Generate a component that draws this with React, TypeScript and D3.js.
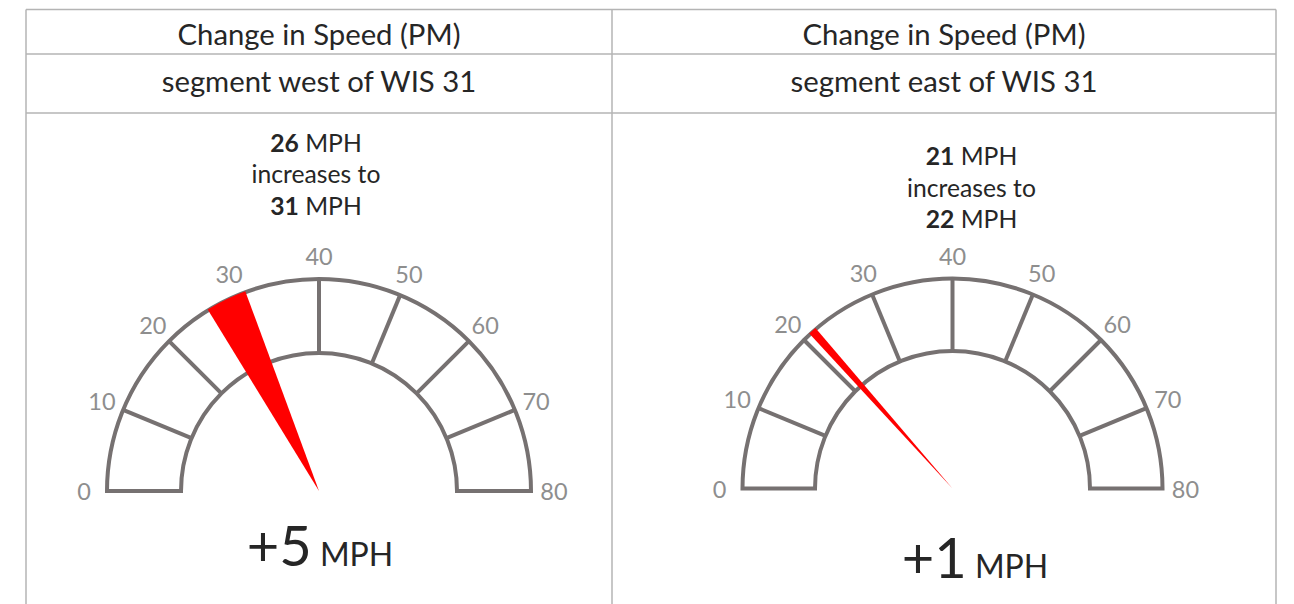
import React from "react";
import * as d3 from "d3";

// ---- data ----
const titles = ["Change in Speed (PM)", "Change in Speed (PM)"];
const segments = ["segment west of WIS 31", "segment east of WIS 31"];
const speedBefore = [26, 21];
const speedAfter = [31, 22];
const changeText = ["+5", "+1"];
const tickValues = [0, 10, 20, 30, 40, 50, 60, 70, 80];
const unit = "MPH";
const middleWords = "increases to";

// ---- layout ----
const W = 1294;
const H = 604;
const FONT = "Lato, 'Open Sans', sans-serif";
const tableLeft = 26;
const tableRight = 1276;
const tableTop = 9.5;
const colSplit = 612;
const rowLines = [54, 113];
const gridColor = "#b4b4b4";
const ringColor = "#767171";
const labelColor = "#8e8e8e";
const textColor = "#262626";

const layouts = [
  { headCx: 319, cx: 319, cy: 491, rOut: 212, rIn: 138, textCx: 316, textY: 151.5, bigCx: 320, bigY: 566 },
  { headCx: 944, cx: 952.5, cy: 488.5, rOut: 210, rIn: 137.5, textCx: 971.5, textY: 165, bigCx: 975, bigY: 578 },
];

const angle = d3.scaleLinear().domain([0, 80]).range([-Math.PI / 2, Math.PI / 2]);

function Gauge({ i }: { i: number }) {
  const L = layouts[i];
  const ring = d3
    .arc()
    .innerRadius(L.rIn)
    .outerRadius(L.rOut)
    .startAngle(angle(0))
    .endAngle(angle(80))({} as any) as string;
  const needle = d3
    .arc()
    .innerRadius(0)
    .outerRadius(L.rOut + 1)
    .startAngle(angle(speedBefore[i]))
    .endAngle(angle(speedAfter[i]))({} as any) as string;
  const labelR = L.rOut + 23;
  const lineH = 31.5;
  return (
    <g>
      <text x={L.headCx} y={45} textAnchor="middle" fontSize={29.3} fill={textColor}>
        {titles[i]}
      </text>
      <text x={L.headCx} y={92} textAnchor="middle" fontSize={29.3} fill={textColor}>
        {segments[i]}
      </text>
      <text x={L.textCx} y={L.textY} textAnchor="middle" fontSize={24.7} fill={textColor}>
        <tspan fontWeight="bold">{speedBefore[i]}</tspan>
        <tspan> {unit}</tspan>
      </text>
      <text x={L.textCx} y={L.textY + lineH} textAnchor="middle" fontSize={24.7} fill={textColor}>
        {middleWords}
      </text>
      <text x={L.textCx} y={L.textY + 2 * lineH} textAnchor="middle" fontSize={24.7} fill={textColor}>
        <tspan fontWeight="bold">{speedAfter[i]}</tspan>
        <tspan> {unit}</tspan>
      </text>
      <g transform={`translate(${L.cx},${L.cy})`}>
        <path d={ring} fill="none" stroke={ringColor} strokeWidth={4} strokeLinejoin="miter" />
        {tickValues.slice(1, -1).map((v) => {
          const a = angle(v);
          return (
            <line
              key={v}
              x1={L.rIn * Math.sin(a)}
              y1={-L.rIn * Math.cos(a)}
              x2={L.rOut * Math.sin(a)}
              y2={-L.rOut * Math.cos(a)}
              stroke={ringColor}
              strokeWidth={4}
            />
          );
        })}
        <path d={needle} fill="#ff0000" />
        {tickValues.map((v) => {
          const a = angle(v);
          return (
            <text
              key={v}
              x={labelR * Math.sin(a)}
              y={-labelR * Math.cos(a)}
              textAnchor="middle"
              dominantBaseline="central"
              fontSize={23.5}
              fill={labelColor}
            >
              {v}
            </text>
          );
        })}
      </g>
      <text x={L.bigCx} y={L.bigY} textAnchor="middle" fill={textColor}>
        <tspan fontSize={56}>{changeText[i]}</tspan>
        <tspan fontSize={32}> {unit}</tspan>
      </text>
    </g>
  );
}

export default function App() {
  return (
    <svg
      width={W}
      height={H}
      style={{ position: "absolute", left: 0, top: 0, background: "#fff" }}
      fontFamily={FONT}
    >
      <rect x={0} y={0} width={W} height={H} fill="#fff" />
      <line x1={tableLeft} x2={tableRight} y1={tableTop} y2={tableTop} stroke={gridColor} strokeWidth={1.5} />
      {rowLines.map((y) => (
        <line key={y} x1={tableLeft} x2={tableRight} y1={y} y2={y} stroke={gridColor} strokeWidth={1.5} />
      ))}
      {[tableLeft, colSplit, tableRight].map((x) => (
        <line key={x} x1={x} x2={x} y1={tableTop} y2={H} stroke={gridColor} strokeWidth={1.5} />
      ))}
      {titles.map((_, i) => (
        <Gauge key={i} i={i} />
      ))}
    </svg>
  );
}
